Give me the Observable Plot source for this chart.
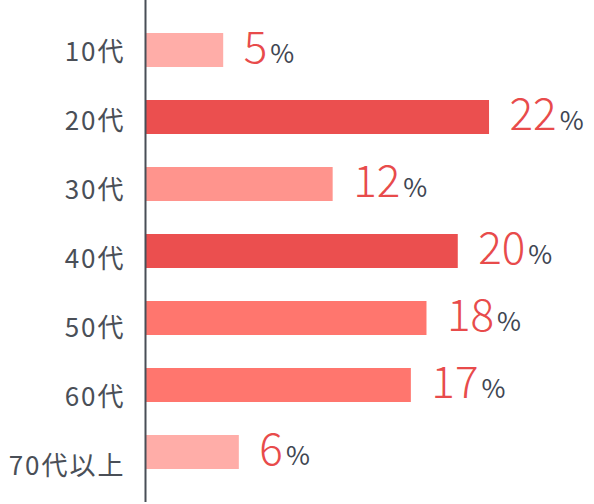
<!DOCTYPE html>
<html>
<head>
<meta charset="utf-8">
<script src="https://cdn.jsdelivr.net/npm/d3@7"></script>
<script src="https://cdn.jsdelivr.net/npm/@observablehq/plot@0.6"></script>
<style>
  html, body { margin: 0; padding: 0; background: #fff; }
  #wrap { position: relative; width: 594px; height: 504px; }
  #wrap svg { position: absolute; top: 0; left: 0; background: transparent; }
</style>
</head>
<body>
<div id="wrap"></div>
<script>
// Data
const ages = ["10代", "20代", "30代", "40代", "50代", "60代", "70代以上"];
const shares = [5, 22, 12, 20, 18, 17, 6];
const unit = "%";

// Style constants
const FONT = "'Noto Sans CJK JP', 'Noto Sans', sans-serif";
const colorThresholds = [10, 15, 19];
const colorRange = ["#ffada8", "#ff948d", "#ff766e", "#eb4f4f"];
const axisColor = "#484e57";
const labelColor = "#4a4f57";
const valueColor = "#e84b4b";
const unitColor = "#3f4652";

const rows = ages.map((a, i) => ({age: a, share: shares[i]}));

const wrap = document.getElementById("wrap");

// Bars chart
const bars = Plot.plot({
  width: 594,
  height: 504,
  marginLeft: 145,
  marginRight: 8,
  marginTop: 0,
  marginBottom: 2,
  style: {fontFamily: FONT, background: "transparent", overflow: "visible"},
  x: {domain: [0, 28.2], axis: null},
  y: {type: "band", domain: ages, padding: 0.49, axis: null},
  color: {type: "threshold", domain: colorThresholds, range: colorRange},
  marks: [
    Plot.barX(rows, {x: "share", y: "age", fill: "share"}),
    Plot.text(rows, {
      x: "share", y: "age", text: d => String(d.share),
      textAnchor: "start", dx: 20, dy: -2, fontSize: 44, fontWeight: 300, fill: valueColor,
      fontFamily: FONT, className: "val"
    }),
    Plot.ruleX([0], {stroke: axisColor, strokeWidth: 2}),
    Plot.axisX({ticks: [], tickSize: 0, line: true, stroke: axisColor, strokeWidth: 2, label: null})
  ]
});

// append unit as tspan
d3.select(bars).selectAll(".val text").append("tspan")
  .attr("font-size", 26)
  .attr("font-weight", 400)
  .attr("fill", unitColor)
  .attr("dx", 3)
  .text(unit);

// Category labels
const labels = Plot.plot({
  width: 145,
  height: 504,
  marginLeft: 0,
  marginRight: 20,
  marginTop: 15,
  marginBottom: 0,
  style: {fontFamily: FONT, background: "transparent", overflow: "visible"},
  x: {axis: null},
  y: {type: "band", domain: ages, padding: 0, axis: null},
  marks: [
    Plot.text(ages, {
      y: d => d, frameAnchor: "right", textAnchor: "end",
      fontSize: 26, fill: labelColor, fontFamily: FONT,
      className: "cat"
    })
  ]
});
d3.select(labels).selectAll(".cat text").style("letter-spacing", "2px");

wrap.appendChild(bars);
wrap.appendChild(labels);
</script>
</body>
</html>
